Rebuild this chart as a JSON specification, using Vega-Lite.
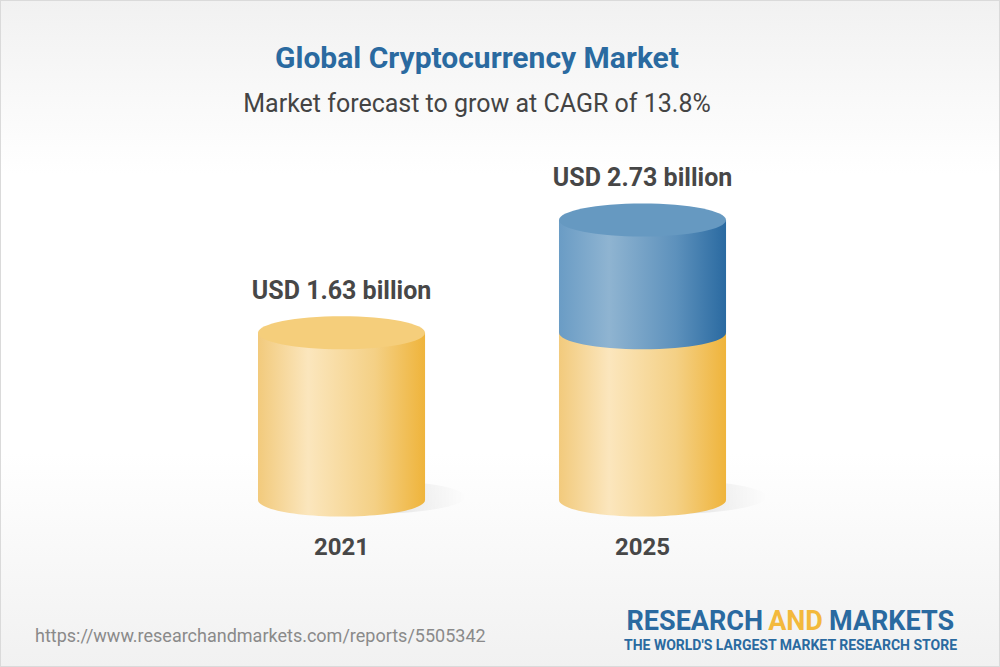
{
  "$schema": "https://vega.github.io/schema/vega-lite/v6.json",
  "width": 1000,
  "height": 667,
  "autosize": {"type": "none"},
  "padding": 0,
  "background": "#ffffff",
  "config": {"view": {"stroke": null}, "font": "Roboto"},
  "title": {
    "text": "Global Cryptocurrency Market",
    "subtitle": "Market forecast to grow at CAGR of 13.8%",
    "anchor": "middle",
    "frame": "group",
    "offset": -118,
    "dx": -23,
    "font": "Roboto",
    "fontSize": 30,
    "fontWeight": "bold",
    "color": "#2a6aa0",
    "subtitleFont": "Roboto",
    "subtitleFontSize": 25,
    "subtitleColor": "#444444",
    "subtitlePadding": 18
  },
  "datasets": {
    "segments": [
      {"year": "2021", "segment": "Base", "from": 0, "to": 1.63},
      {"year": "2025", "segment": "Base", "from": 0, "to": 1.63},
      {"year": "2025", "segment": "Growth", "from": 1.63, "to": 2.73}
    ],
    "totals": [
      {"year": "2021", "value": 1.63, "label": "USD 1.63 billion", "top": "Base"},
      {"year": "2025", "value": 2.73, "label": "USD 2.73 billion", "top": "Growth"}
    ],
    "footer": [
      {"url": "https://www.researchandmarkets.com/reports/5505342", "w1": "RESEARCH", "w2": "AND", "w3": "MARKETS", "tagline": "THE WORLD'S LARGEST MARKET RESEARCH STORE"}
    ]
  },
  "resolve": {"scale": {"x": "independent", "y": "independent"}},
  "layer": [
    {
      "data": {"values": [{}]},
      "mark": {
        "type": "rect",
        "fill": {"gradient": "linear", "x1": 0, "y1": 0, "x2": 0, "y2": 1,
          "stops": [
            {"offset": 0, "color": "#f1f1f1"},
            {"offset": 0.26, "color": "#ffffff"},
            {"offset": 0.68, "color": "#ffffff"},
            {"offset": 1, "color": "#f1f1f1"}
          ]},
        "stroke": "#dadada",
        "strokeWidth": 2
      },
      "encoding": {}
    },
    {
      "encoding": {
        "x": {"field": "year", "type": "nominal",
          "scale": {"type": "band", "domain": ["2021", "2025"], "paddingInner": 0.445, "paddingOuter": 0.8837, "align": 0.485},
          "axis": null}
      },
      "layer": [
        {
          "data": {"name": "totals"},
          "mark": {"type": "point", "filled": true, "shape": "M-1,0A1,0.17,0,1,1,1,0A1,0.17,0,1,1,-1,0Z", "size": 40000, "xOffset": 24, "yOffset": -3, "strokeWidth": 0, "opacity": 1,
            "fill": {"gradient": "radial", "x1": 0.5, "y1": 0.5, "r1": 0, "x2": 0.5, "y2": 0.5, "r2": 0.5,
              "stops": [{"offset": 0, "color": "rgba(0,0,0,0.14)"}, {"offset": 0.55, "color": "rgba(0,0,0,0.05)"}, {"offset": 1, "color": "rgba(0,0,0,0)"}]}},
          "encoding": {
            "y": {"datum": 0, "type": "quantitative", "scale": {"domain": [-1.6277, 4.8742], "nice": false, "zero": false}, "axis": null}
          }
        },
        {
          "data": {"name": "segments"},
          "transform": [{"filter": "datum.segment === 'Base'"}],
          "mark": {"type": "point", "filled": true, "shape": "M-1,0A1,0.198,0,1,1,1,0A1,0.198,0,1,1,-1,0Z", "size": 27889, "strokeWidth": 0, "opacity": 1,
            "fill": {"gradient": "linear", "x1": 0, "y1": 0, "x2": 1, "y2": 0,
              "stops": [{"offset": 0, "color": "#f2ca7c"}, {"offset": 0.3, "color": "#fbe6bd"}, {"offset": 0.7, "color": "#f4d085"}, {"offset": 1, "color": "#efb43b"}]}},
          "encoding": {
            "y": {"field": "from", "type": "quantitative", "scale": {"domain": [-1.6277, 4.8742], "nice": false, "zero": false}, "axis": null}
          }
        },
        {
          "data": {"name": "segments"},
          "transform": [{"filter": "datum.segment === 'Base'"}],
          "mark": {"type": "bar",
            "fill": {"gradient": "linear", "x1": 0, "y1": 0, "x2": 1, "y2": 0,
              "stops": [{"offset": 0, "color": "#f2ca7c"}, {"offset": 0.3, "color": "#fbe6bd"}, {"offset": 0.7, "color": "#f4d085"}, {"offset": 1, "color": "#efb43b"}]}},
          "encoding": {
            "y": {"field": "from", "type": "quantitative", "scale": {"domain": [-1.6277, 4.8742], "nice": false, "zero": false}, "axis": null},
            "y2": {"field": "to"}
          }
        },
        {
          "data": {"name": "totals"},
          "transform": [{"filter": "datum.top === 'Base'"}],
          "mark": {"type": "point", "filled": true, "shape": "M-1,0A1,0.198,0,1,1,1,0A1,0.198,0,1,1,-1,0Z", "size": 27889, "strokeWidth": 0, "opacity": 1, "fill": "#f5ce7b"},
          "encoding": {
            "y": {"field": "value", "type": "quantitative", "scale": {"domain": [-1.6277, 4.8742], "nice": false, "zero": false}, "axis": null}
          }
        },
        {
          "data": {"name": "segments"},
          "transform": [{"filter": "datum.segment === 'Growth'"}],
          "mark": {"type": "point", "filled": true, "shape": "M-1,0A1,0.198,0,1,1,1,0A1,0.198,0,1,1,-1,0Z", "size": 27889, "strokeWidth": 0, "opacity": 1,
            "fill": {"gradient": "linear", "x1": 0, "y1": 0, "x2": 1, "y2": 0,
              "stops": [{"offset": 0, "color": "#6a9cc5"}, {"offset": 0.3, "color": "#8fb4d1"}, {"offset": 0.7, "color": "#5d91bc"}, {"offset": 1, "color": "#2a6aa1"}]}},
          "encoding": {
            "y": {"field": "from", "type": "quantitative", "scale": {"domain": [-1.6277, 4.8742], "nice": false, "zero": false}, "axis": null}
          }
        },
        {
          "data": {"name": "segments"},
          "transform": [{"filter": "datum.segment === 'Growth'"}],
          "mark": {"type": "bar",
            "fill": {"gradient": "linear", "x1": 0, "y1": 0, "x2": 1, "y2": 0,
              "stops": [{"offset": 0, "color": "#6a9cc5"}, {"offset": 0.3, "color": "#8fb4d1"}, {"offset": 0.7, "color": "#5d91bc"}, {"offset": 1, "color": "#2a6aa1"}]}},
          "encoding": {
            "y": {"field": "from", "type": "quantitative", "scale": {"domain": [-1.6277, 4.8742], "nice": false, "zero": false}, "axis": null},
            "y2": {"field": "to"}
          }
        },
        {
          "data": {"name": "totals"},
          "transform": [{"filter": "datum.top === 'Growth'"}],
          "mark": {"type": "point", "filled": true, "shape": "M-1,0A1,0.198,0,1,1,1,0A1,0.198,0,1,1,-1,0Z", "size": 27889, "strokeWidth": 0, "opacity": 1, "fill": "#6699c1"},
          "encoding": {
            "y": {"field": "value", "type": "quantitative", "scale": {"domain": [-1.6277, 4.8742], "nice": false, "zero": false}, "axis": null}
          }
        },
        {
          "data": {"name": "totals"},
          "mark": {"type": "text", "font": "Roboto", "fontSize": 25, "fontWeight": "bold", "color": "#474747", "baseline": "alphabetic", "align": "center", "dy": -34},
          "encoding": {
            "y": {"field": "value", "type": "quantitative", "scale": {"domain": [-1.6277, 4.8742], "nice": false, "zero": false}, "axis": null},
            "text": {"field": "label"}
          }
        },
        {
          "data": {"name": "totals"},
          "mark": {"type": "text", "font": "Roboto", "fontSize": 24, "fontWeight": "bold", "color": "#474747", "baseline": "alphabetic", "align": "center", "dy": 55},
          "encoding": {
            "y": {"datum": 0, "type": "quantitative", "scale": {"domain": [-1.6277, 4.8742], "nice": false, "zero": false}, "axis": null},
            "text": {"field": "year"}
          }
        }
      ]
    },
    {
      "data": {"name": "footer"},
      "layer": [
        {
          "mark": {"type": "text", "font": "Roboto", "fontSize": 18, "color": "#8a8a8a", "baseline": "alphabetic", "align": "left"},
          "encoding": {
            "x": {"datum": 0.035, "type": "quantitative", "scale": {"domain": [0, 1]}, "axis": null},
            "y": {"datum": 0.9625, "type": "quantitative", "scale": {"domain": [0, 1], "reverse": true}, "axis": null},
            "text": {"field": "url"}
          }
        },
        {
          "mark": {"type": "text", "font": "Roboto", "fontSize": 27, "fontWeight": "bold", "color": "#2a6aa0", "baseline": "alphabetic", "align": "right"},
          "encoding": {
            "x": {"datum": 0.763, "type": "quantitative", "scale": {"domain": [0, 1]}, "axis": null},
            "y": {"datum": 0.9441, "type": "quantitative", "scale": {"domain": [0, 1], "reverse": true}, "axis": null},
            "text": {"field": "w1"}
          }
        },
        {
          "mark": {"type": "text", "font": "Roboto", "fontSize": 27, "fontWeight": "bold", "color": "#f3b93c", "baseline": "alphabetic", "align": "center"},
          "encoding": {
            "x": {"datum": 0.7955, "type": "quantitative", "scale": {"domain": [0, 1]}, "axis": null},
            "y": {"datum": 0.9441, "type": "quantitative", "scale": {"domain": [0, 1], "reverse": true}, "axis": null},
            "text": {"field": "w2"}
          }
        },
        {
          "mark": {"type": "text", "font": "Roboto", "fontSize": 27, "fontWeight": "bold", "color": "#2a6aa0", "baseline": "alphabetic", "align": "left"},
          "encoding": {
            "x": {"datum": 0.829, "type": "quantitative", "scale": {"domain": [0, 1]}, "axis": null},
            "y": {"datum": 0.9441, "type": "quantitative", "scale": {"domain": [0, 1], "reverse": true}, "axis": null},
            "text": {"field": "w3"}
          }
        },
        {
          "mark": {"type": "text", "font": "Roboto", "fontSize": 14, "fontWeight": "bold", "color": "#2a6aa0", "baseline": "alphabetic", "align": "center"},
          "encoding": {
            "x": {"datum": 0.7905, "type": "quantitative", "scale": {"domain": [0, 1]}, "axis": null},
            "y": {"datum": 0.9745, "type": "quantitative", "scale": {"domain": [0, 1], "reverse": true}, "axis": null},
            "text": {"field": "tagline"}
          }
        }
      ]
    }
  ]
}
